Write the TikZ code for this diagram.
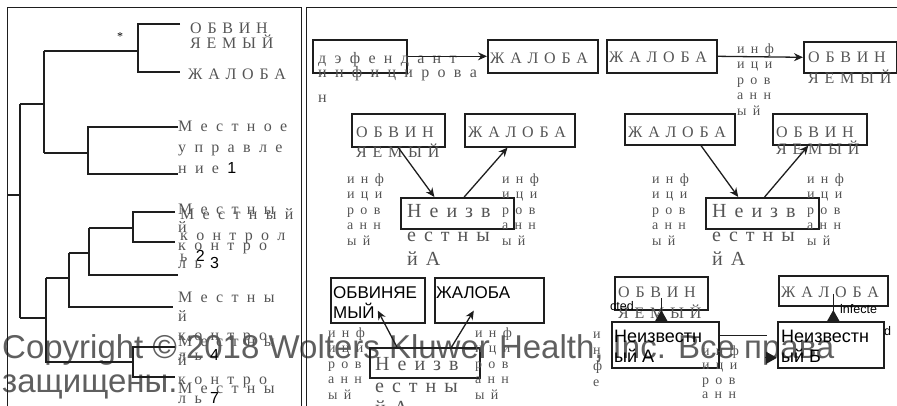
\documentclass[tikz,border=0pt]{standalone}
\usepackage{fontspec}
\setmainfont{Liberation Serif}
\setsansfont{Liberation Sans}
\usetikzlibrary{positioning,calc,arrows.meta}
\definecolor{inkgray}{RGB}{85,85,85}
\definecolor{linedark}{RGB}{30,30,30}
\definecolor{markgray}{RGB}{95,95,95}
\newcommand{\numsf}[1]{{\sffamily\color{black}#1}}

\begin{document}
\begin{tikzpicture}[x=1pt, y=-1pt,
  frame/.style={draw=linedark, line width=1.1pt},
  branch/.style={draw=linedark, line width=1.5pt},
  box/.style={draw=linedark, line width=1.6pt, inner sep=0, anchor=north west},
  link/.style={draw=linedark, line width=1.3pt, -{Stealth[length=9pt,width=8pt]}},
  bare/.style={draw=linedark, line width=1.3pt},
  uptip/.style={draw=linedark, line width=1.3pt, -{Triangle[length=11pt,width=12pt]}},
  capslbl/.style={font={\fontsize{16}{#1}\selectfont\spaceskip=.36em\relax}, text=inkgray, inner sep=0, align=left, anchor=base west},
  capslbl/.default=19,
  lowlbl/.style={font={\fontsize{16}{#1}\selectfont\spaceskip=.52em\relax}, text=inkgray, inner sep=0, align=left, anchor=base west},
  lowlbl/.default=21,
  biglbl/.style={font={\fontsize{20}{#1}\selectfont\spaceskip=.4em\relax}, text=inkgray, inner sep=0, align=left, anchor=base west},
  biglbl/.default=24,
  collbl/.style={font={\fontsize{14}{#1}\selectfont\spaceskip=.45em\relax}, text=inkgray, inner sep=0, align=left, anchor=base west},
  collbl/.default=15.5,
  sanslbl/.style={font={\sffamily\fontsize{17}{20}\selectfont}, text=black, inner sep=0, align=left, anchor=base west},
  sansbig/.style={font={\sffamily\fontsize{18}{20}\selectfont}, text=black, inner sep=0, align=left, anchor=base west},
  taglbl/.style={font={\sffamily\fontsize{12.5}{14}\selectfont}, text=black, inner sep=0, anchor=base west},
  markline/.style={font={\sffamily\fontsize{33}{34}\selectfont}, text=markgray, inner sep=0, align=left, anchor=base west}
]
\useasboundingbox (0,0) rectangle (897,405);
\clip (0,0) rectangle (897,405);

% watermark (anchored on the last line)
\node[markline] (mark) at (2,392) {Copyright © 2018 Wolters Kluwer Health, Inc. Все права\\защищены.};

% panels
\draw[frame] (7.5,410) -- (7.5,7.5) -- (301.5,7.5) -- (301.5,410);
\draw[frame] (306.5,410) -- (306.5,7.5) -- (900,7.5);

% dendrogram
\draw[branch] (180,24) -- (138,24) -- (138,72) -- (180,72);
\draw[branch] (44,51) -- (138,51);
\draw[branch] (178,127) -- (88,127) -- (88,174) -- (178,174);
\draw[branch] (44,153) -- (88,153);
\draw[branch] (44,51) -- (44,153);
\draw[branch] (20,104) -- (44,104);
\draw[branch] (20,104) -- (20,318);
\draw[branch] (7,195) -- (20,195);
\draw[branch] (175,212) -- (133,212) -- (133,242) -- (175,242);
\draw[branch] (89,228) -- (133,228);
\draw[branch] (89,228) -- (89,275) -- (178,275);
\draw[branch] (69,253) -- (89,253);
\draw[branch] (69,253) -- (69,307) -- (173,307);
\draw[branch] (46,278) -- (69,278);
\draw[branch] (46,278) -- (46,362) -- (133,362);
\draw[branch] (175,347) -- (133,347) -- (133,377) -- (175,377);
\draw[branch] (20,318) -- (46,318);
\node[font=\fontsize{12}{12}\selectfont, inner sep=0] (star) at (120,37) {*};

\node[capslbl=15] (lObv) at (190,48) {О Б В И Н\\Я Е М Ы Й};
\node[capslbl] (lZhal) at (188,79) {Ж А Л О Б А};
\node[lowlbl] (lMu) at (178,173) {М е с т н о е\\у п р а в л е\\н и е \numsf{1}};
\node[lowlbl] (lMk2) at (180,261) {М е с т н ы й\\к о н т р о л\\ь \numsf{2}};
\node[lowlbl=18] (lMk3) at (178,268) {М е с т н ы\\й\\к о н т р о\\л ь \numsf{3}};
\node[lowlbl=19.3] (lMk4) at (178,360) {М е с т н ы\\й\\к о н т р о\\л ь \numsf{4}};
\node[lowlbl=19] (lMk7) at (178,403) {М е с т н ы\\й\\к о н т р о\\л ь \numsf{7}};
\node[lowlbl] (lMk6) at (178,393) {М е с т н ы};

% top left
\node[box, minimum width=94, minimum height=33] (bDef) at (312,39) {};
\node[lowlbl] (tDef) at (318,63) {д э ф е н д а н т};
\node[lowlbl=25] (tInf) at (318,102) {и н ф и ц и р о в а\\н};
\node[box, minimum width=110, minimum height=33] (bZh1) at (487,39) {};
\node[capslbl] (tZh1) at (490,63) {Ж А Л О Б А};
\draw[link] (bDef.east) -- (bZh1.west);

% top right
\node[box, minimum width=110, minimum height=33] (bZh2) at (606,39) {};
\node[capslbl] (tZh2) at (609,62) {Ж А Л О Б А};
\node[box, minimum width=93, minimum height=31] (bOb2) at (803,41) {};
\node[capslbl=21] (tOb2) at (808,83) {О Б В И Н\\Я Е М Ы Й};
\draw[link] (bZh2.east) -- (bOb2.west);
\node[collbl] (cInf2) at (737,115) {и н ф\\и ц и\\р о в\\а н н\\ы й};

% middle left
\node[box, minimum width=93, minimum height=33] (bOb3) at (351,113) {};
\node[capslbl=20] (tOb3) at (356,157) {О Б В И Н\\Я Е М Ы Й};
\node[box, minimum width=110, minimum height=33] (bZh3) at (464,113) {};
\node[capslbl] (tZh3) at (468,137) {Ж А Л О Б А};
\node[box, minimum width=113, minimum height=31] (bUnA3) at (400,197) {};
\node[biglbl] (tUnA3) at (407,265) {Н е и з в\\е с т н ы\\й А};
\node[collbl] (cInf3a) at (347,245) {и н ф\\и ц и\\р о в\\а н н\\ы й};
\node[collbl] (cInf3b) at (502,245) {и н ф\\и ц и\\р о в\\а н н\\ы й};
\draw[link] (bOb3.south) -- ($(bUnA3.north west)!.3!(bUnA3.north east)$);
\draw[link] ($(bUnA3.north west)!.56!(bUnA3.north east)$) -- ($(bZh3.south west)!.39!(bZh3.south east)$);

% middle right
\node[box, minimum width=110, minimum height=31] (bZh4) at (624,113) {};
\node[capslbl] (tZh4) at (628,137) {Ж А Л О Б А};
\node[box, minimum width=94, minimum height=31] (bOb4) at (772,113) {};
\node[capslbl=17] (tOb4) at (776,154) {О Б В И Н\\Я Е М Ы Й};
\node[box, minimum width=113, minimum height=31] (bUnA4) at (705,197) {};
\node[biglbl] (tUnA4) at (712,265) {Н е и з в\\е с т н ы\\й А};
\node[collbl] (cInf4a) at (652,245) {и н ф\\и ц и\\р о в\\а н н\\ы й};
\node[collbl] (cInf4b) at (807,245) {и н ф\\и ц и\\р о в\\а н н\\ы й};
\draw[link] ($(bZh4.south west)!.69!(bZh4.south east)$) -- ($(bUnA4.north west)!.29!(bUnA4.north east)$);
\draw[link] ($(bUnA4.north west)!.52!(bUnA4.north east)$) -- ($(bOb4.south west)!.38!(bOb4.south east)$);

% bottom left
\node[box, minimum width=94, minimum height=45] (bOb5) at (330,277) {};
\node[sanslbl] (tOb5) at (333,318) {ОБВИНЯЕ\\МЫЙ};
\node[box, minimum width=109, minimum height=45] (bZh5) at (434,277) {};
\node[sanslbl] (tZh5) at (436,298) {ЖАЛОБА};
\node[box, minimum width=110, minimum height=30] (bUnA5) at (369,347) {};
\node[biglbl=22] (tUnA5) at (375,414) {Н е и з в\\е с т н ы\\й А};
\node[collbl] (cInf5a) at (328,399) {и н ф\\и ц и\\р о в\\а н н\\ы й};
\node[collbl] (cInf5b) at (475,399) {и н ф\\и ц и\\р о в\\а н н\\ы й};
\node[collbl=16] (cInf5c) at (593,386) {и\\н\\ф\\е};
\draw[link] ($(bUnA5.north west)!.25!(bUnA5.north east)$) -- ($(bOb5.south)+(0,-13)$);
\draw[link] ($(bUnA5.north west)!.74!(bUnA5.north east)$) -- ($(bZh5.south west)!.36!(bZh5.south east)+(0,-13)$);

% bottom right
\node[box, minimum width=93, minimum height=33] (bOb6) at (614,276) {};
\node[capslbl=21] (tOb6) at (618,318) {О Б В И Н\\Я Е М Ы Й};
\node[taglbl] (tCted) at (610,310) {cted};
\node[box, minimum width=107, minimum height=46] (bUnA6) at (611,321) {};
\node[sansbig] (tUnA6) at (614,362) {Неизвестн\\ый А};
\node[box, minimum width=109, minimum height=30] (bZh6) at (778,275) {};
\node[capslbl] (tZh6) at (781,297) {Ж А Л О Б А};
\node[taglbl] (tInfe) at (840,313) {infecte};
\node[taglbl] (tD) at (884,335) {d};
\node[box, minimum width=106, minimum height=46] (bUnB6) at (777,321) {};
\node[sansbig] (tUnB6) at (781,362) {Неизвестн\\ый Б};
\node[collbl=14.5] (cInf6) at (702,398.5) {и н ф\\и ц и\\р о в\\а н н};
\draw[bare] ($(bOb6.center)+(0,4.5)$) -- (bOb6.center |- bUnA6.north);
\draw[uptip] (bOb6.center |- bUnA6.north) -- ++(0,-11);
\draw[bare] ($(bZh6.center)+(0,3)$) -- (bZh6.center |- bUnB6.north);
\draw[uptip] (bZh6.center |- bUnB6.north) -- ++(0,-11);
\draw[bare] ($(bUnA6.east)+(0,-9)$) -- ($(bUnB6.west)+(-10,-9)$);
\draw[uptip] ($(bUnB6.west)+(-12,13)$) -- ($(bUnB6.west)+(0,13)$);
\end{tikzpicture}
\end{document}
